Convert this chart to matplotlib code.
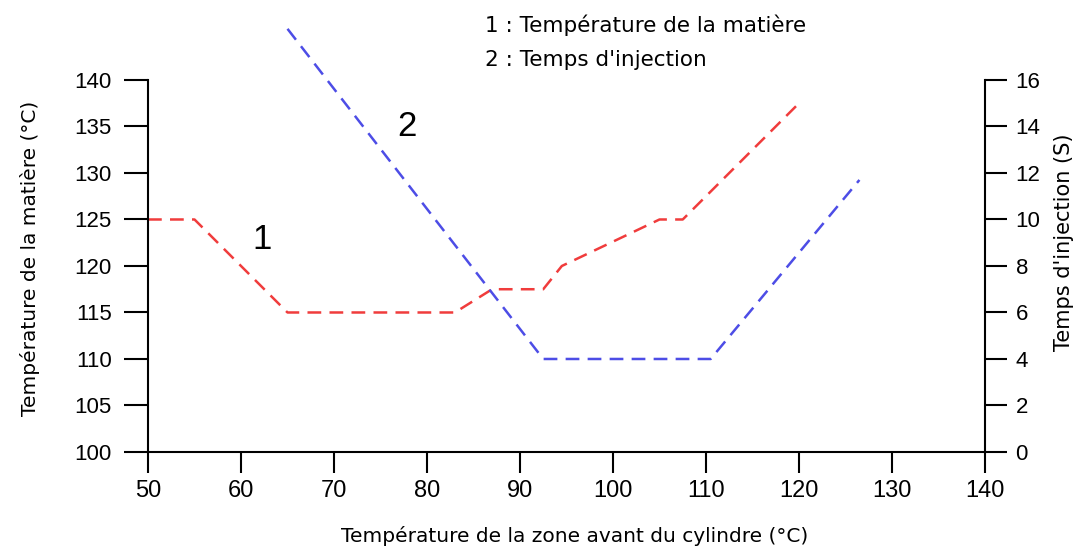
import matplotlib
matplotlib.use("Agg")
import matplotlib.pyplot as plt

# front zone temperature (°C) vs material temperature (°C)
matiere_x = [50, 55, 65, 83, 87, 92.5, 94.5, 105, 107.5, 120]
matiere_y = [125, 125, 115, 115, 117.5, 117.5, 120, 125, 125, 137.5]

# front zone temperature (°C) vs injection time (s)
injection_x = [65, 92.5, 110.5, 126.5]
injection_y = [18.2, 4, 4, 11.7]

x_ticks = [50, 60, 70, 80, 90, 100, 110, 120, 130, 140]
left_ticks = [100, 105, 110, 115, 120, 125, 130, 135, 140]
right_ticks = [0, 2, 4, 6, 8, 10, 12, 14, 16]

plt.rcParams['font.family'] = ['Liberation Sans', 'DejaVu Sans']

fig = plt.figure(figsize=(10.78, 5.46), dpi=100)
ax = fig.add_axes([0.1373, 0.1722, 0.7764, 0.6813])
ax2 = ax.twinx()

ax.plot(matiere_x, matiere_y, color='#f03c3c', lw=1.8, dashes=(5.5, 3.3), clip_on=False)
ax2.plot(injection_x, injection_y, color='#4d4de6', lw=1.8, dashes=(5.5, 3.3), clip_on=False)

ax.set_xlim(50, 140)
ax.set_ylim(100, 140)
ax2.set_ylim(0, 16)

ax.set_xticks(x_ticks)
ax.set_yticks(left_ticks)
ax2.set_yticks(right_ticks)

for s in ['top', 'right']:
    ax.spines[s].set_visible(False)
for s in ['top', 'left', 'bottom']:
    ax2.spines[s].set_visible(False)
for sp in [ax.spines['left'], ax.spines['bottom'], ax2.spines['right']]:
    sp.set_linewidth(1.5)

ax.tick_params(axis='y', direction='out', length=17, width=1.5, pad=9, labelsize=16)
ax.tick_params(axis='x', direction='out', length=15, width=1.5, pad=5, labelsize=17)
ax2.tick_params(axis='y', direction='out', length=16, width=1.5, pad=6, labelsize=16)

lab = dict(family='DejaVu Sans')
ax.set_xlabel("Température de la zone avant du cylindre (°C)", fontsize=14.5, **lab)
ax.set_ylabel("Température de la matière (°C)", fontsize=14.5, **lab)
ax2.set_ylabel("Temps d'injection (S)", fontsize=15, **lab)
ax.xaxis.set_label_coords(0.51, -0.2)
ax.yaxis.set_label_coords(-0.129, 0.52)
ax2.yaxis.set_label_coords(1.083, 0.565)

ax.text(62.26, 122.8, "1", fontsize=25, ha='center', va='center')
ax.text(77.85, 135.0, "2", fontsize=25, ha='center', va='center')

fig.text(0.45, 0.954, "1 : Température de la matière", fontsize=15.5, va='center', **lab)
fig.text(0.45, 0.89, "2 : Temps d'injection", fontsize=15.5, va='center', **lab)

fig.savefig("out.png", dpi=100)
